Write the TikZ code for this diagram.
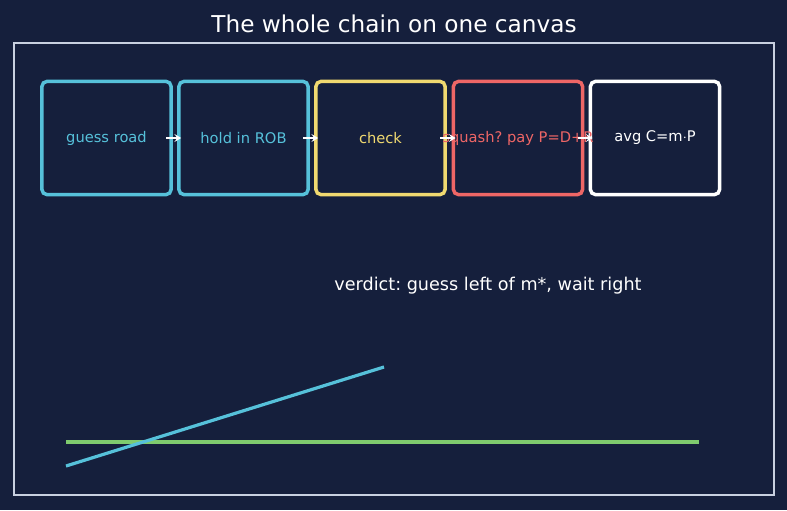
\documentclass[tikz,border=0pt]{standalone}
\usepackage{fontspec}
\setmainfont{DejaVu Sans}
\frenchspacing
\usetikzlibrary{arrows.meta, positioning}

\definecolor{canvasbg}{HTML}{151F3C}
\definecolor{framegray}{HTML}{C8D0E0}
\definecolor{roadcyan}{HTML}{56C1DA}
\definecolor{checkyellow}{HTML}{F0D970}
\definecolor{squashred}{HTML}{EE6666}
\definecolor{costgreen}{HTML}{7FCB6E}

\begin{document}
\begin{tikzpicture}[>={Stealth[length=5pt, width=6pt, inset=2pt]}, x=0.75pt, y=-0.75pt,
    stage/.style={draw, line width=2.6pt, rounded corners=4pt, inner sep=0pt,
      minimum width=97pt, minimum height=85pt},
    stagetext/.style={font=\fontsize{11}{13}\selectfont},
    link/.style={->, white, line width=1.1pt, shorten <=-5pt, shorten >=-3pt}]
  % Canvas and frame
  \fill[canvasbg] (0,0) rectangle (787,510);
  \useasboundingbox (0,0) rectangle (787,510);
  \draw[framegray, line width=1.1pt] (14,43) rectangle (774,495);
  \node[white, font=\fontsize{17.4}{20}\selectfont] (title) at (394,24)
    {The whole chain on one canvas};

  % The chain of stages (boxes, then their texts)
  \node[stage, roadcyan] (guess) at (106.5,138) {};
  \node[stage, roadcyan] (hold) at (243.5,138) {};
  \node[stage, checkyellow] (check) at (380.5,138) {};
  \node[stage, squashred] (squash) at (518,138) {};
  \node[stage, white] (avg) at (655,138) {};

  \node[stagetext, roadcyan] (guesstext) at (guess) {guess road};
  \node[stagetext, roadcyan] (holdtext) at (hold) {hold in ROB};
  \node[stagetext, checkyellow] (checktext) at (check) {check};
  \node[stagetext, squashred] (squashtext) at (squash) {squash? pay P=D+R};
  \node[stagetext, white] (avgtext) at (avg) {avg C=m$\cdot$P};

  \draw[link] (guess) -- (hold);
  \draw[link] (hold) -- (check);
  \draw[link] (check) -- (squash);
  \draw[link] (squash) -- (avg);

  % Verdict
  \node[white, font=\fontsize{13.2}{15}\selectfont] (verdict) at (488,286)
    {verdict: guess left of m*, wait right};

  % Cost lines
  \coordinate (cyanA) at (66,466);
  \coordinate (cyanB) at (384,367);
  \coordinate (greenA) at (66,442);
  \coordinate (greenB) at (699,442);
  \draw[costgreen, line width=2.4pt] (greenA) -- (greenB);
  \draw[roadcyan, line width=2.4pt] (cyanA) -- (cyanB);
\end{tikzpicture}
\end{document}
